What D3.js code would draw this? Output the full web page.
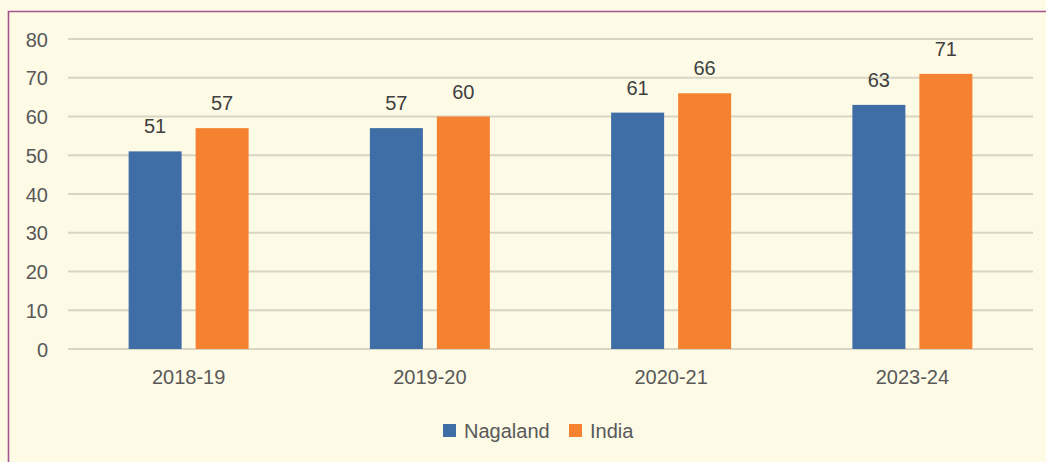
<!DOCTYPE html>
<html>
<head>
<meta charset="utf-8">
<script src="https://cdn.jsdelivr.net/npm/d3@7"></script>
<style>
  html, body { margin: 0; padding: 0; background: #fdfae6; }
  svg { display: block; }
  text { font-family: "Liberation Sans", Arial, sans-serif; }
</style>
</head>
<body>
<svg id="chart" width="1046" height="462"></svg>
<script>
// Years on the x axis
const categories = ["2018-19", "2019-20", "2020-21", "2023-24"];
// Series values
const nagaland = [51, 57, 61, 63];
const india = [57, 60, 66, 71];
const seriesNames = ["Nagaland", "India"];
const seriesColors = ["#3f6da5", "#f58230"];
const yTicks = [0, 10, 20, 30, 40, 50, 60, 70, 80];

const svg = d3.select("#chart");
const W = 1046, H = 462;
const FONT = "'Liberation Sans', Arial, sans-serif";

// panel background and frame
svg.append("rect").attr("x", 0).attr("y", 0).attr("width", W).attr("height", H).attr("fill", "#fdfae6");
svg.append("path")
  .attr("d", `M8.5,${H} V11.5 H${W}`)
  .attr("fill", "none").attr("stroke", "#a3548c").attr("stroke-width", 1.6);

const margin = { left: 68, right: 13, top: 39, bottom: 113 };
const x0 = d3.scaleBand().domain(categories).range([margin.left, W - margin.right]);
const y = d3.scaleLinear().domain([0, 80]).range([H - margin.bottom, margin.top]);

// gridlines
svg.append("g").selectAll("line").data(yTicks).join("line")
  .attr("x1", margin.left).attr("x2", W - margin.right)
  .attr("y1", d => y(d)).attr("y2", d => y(d))
  .attr("stroke", "#d8d5c4").attr("stroke-width", 1.8);

// y axis labels
const yAxis = d3.axisLeft(y).tickValues(yTicks).tickSize(0).tickPadding(0);
const gy = svg.append("g").attr("transform", `translate(48,0)`).call(yAxis)
  .attr("font-size", 20).attr("font-family", FONT);
gy.select(".domain").remove();
gy.selectAll("text").attr("fill", "#595959").attr("dy", "0.36em");

// x axis labels
const xAxis = d3.axisBottom(x0).tickSize(0).tickPadding(0);
const gx = svg.append("g").attr("transform", `translate(0,${y(0) + 21})`).call(xAxis)
  .attr("font-size", 20).attr("font-family", FONT);
gx.select(".domain").remove();
gx.selectAll("text").attr("fill", "#595959");

// bars
const barW = 53, gap = 14;
const series = [nagaland, india];
series.forEach((vals, si) => {
  const offset = si === 0 ? -gap / 2 - barW : gap / 2;
  const g = svg.append("g");
  g.selectAll("rect").data(vals).join("rect")
    .attr("x", (d, i) => x0(categories[i]) + x0.bandwidth() / 2 + offset)
    .attr("y", d => y(d))
    .attr("width", barW)
    .attr("height", d => y(0) - y(d))
    .attr("fill", seriesColors[si]);
  g.selectAll("text").data(vals).join("text")
    .attr("x", (d, i) => x0(categories[i]) + x0.bandwidth() / 2 + offset + barW / 2)
    .attr("y", d => y(d) - 18)
    .attr("text-anchor", "middle")
    .attr("font-size", 20).attr("fill", "#404040")
    .text(d => d);
});

// legend
const legend = svg.append("g").attr("transform", "translate(443,424)");
const items = [{ name: seriesNames[0], color: seriesColors[0], x: 0 }, { name: seriesNames[1], color: seriesColors[1], x: 126 }];
items.forEach(it => {
  legend.append("rect").attr("x", it.x).attr("y", 0).attr("width", 13).attr("height", 13).attr("fill", it.color);
  legend.append("text").attr("x", it.x + 21).attr("y", 14).attr("font-size", 20).attr("fill", "#595959").text(it.name);
});
</script>
</body>
</html>
